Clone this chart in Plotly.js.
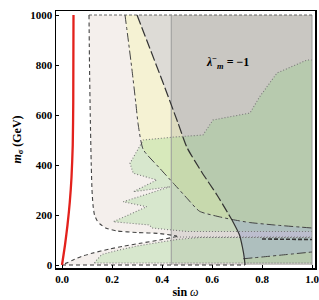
<!DOCTYPE html>
<html>
<head>
<meta charset="utf-8">
<script src="https://cdn.plot.ly/plotly-3.0.1.min.js"></script>
<style>html,body{margin:0;padding:0;background:#fff;}#chart{width:319px;height:300px;}</style>
</head>
<body>
<div id="chart"></div>
<script>
// ---- data (x = sin ω, y = m_σ in GeV) ----
// red curve
const redX = [0.0, 0.012, 0.022, 0.031, 0.038, 0.043, 0.045, 0.046];
const redY = [0, 80, 160, 250, 350, 480, 650, 1000];
// dashed boundary of the pink region: upper branch (top -> tongue tip)
const upDashX = [0.108, 0.110, 0.113, 0.117, 0.120, 0.124, 0.130, 0.140, 0.152, 0.175, 0.22, 0.30, 0.39, 0.46];
const upDashY = [1000, 800, 600, 400, 300, 240, 200, 178, 164, 148, 136, 130, 126, 116];
// dashed boundary: lower branch (tongue tip -> origin)
const loDashX = [0.46, 0.39, 0.32, 0.25, 0.19, 0.12, 0.08, 0.04, 0.0];
const loDashY = [114, 100, 88, 76, 64, 47, 35, 18, 0];
// dash-dot boundary of the yellow region
const ddX = [0.252, 0.265, 0.28, 0.295, 0.305, 0.325, 0.39, 0.45, 0.50, 0.55, 0.62, 0.68, 0.75, 0.85, 1.0];
const ddY = [1000, 900, 780, 650, 560, 462, 388, 322, 267, 215, 195, 182, 170, 160, 148];
// long-dash boundary of the grey region (upper dashed part, lower solid part)
const ldX = [0.30, 0.35, 0.40, 0.464, 0.50, 0.56, 0.62, 0.68];
const ldY = [1000, 870, 740, 568, 470, 370, 280, 180];
const lsX = [0.68, 0.71, 0.722, 0.729, 0.732];
const lsY = [180, 120, 70, 30, 0];
// dotted boundary of upper green region (right edge -> left, then jagged down)
const gTopX = [1.0, 0.98, 0.86, 0.79, 0.752, 0.604, 0.564, 0.45, 0.325];
const gTopY = [820, 820, 768, 672, 608, 580, 520, 512, 500];
const gJagX = [0.325, 0.272, 0.285, 0.379, 0.285, 0.432, 0.245, 0.339, 0.205, 0.35, 0.36, 0.46, 0.50, 1.0];
const gJagY = [500, 407, 367, 340, 293, 313, 253, 233, 173, 160, 148, 140, 134, 134];
// dotted boundary of lower green region
const gLowX = [0.13, 0.14, 0.16, 0.22, 0.30, 0.40, 0.46, 0.55, 1.0];
const gLowY = [8, 22, 42, 58, 76, 92, 102, 110, 110];
// dash-dot lines of the blue band
const bUpX = [0.68, 0.75, 0.85, 1.0];
const bUpY = [182, 170, 160, 148];
const bLoX = [0.725, 0.8, 0.9, 1.0];
const bLoY = [25, 32, 42, 52];
// heavy dashed line in the band
const hdX = [0.80, 1.0];
const hdY = [104, 102];
// vertical line
const vLineX = 0.437;
const xTicks = [0, 0.2, 0.4, 0.6, 0.8, 1.0];
const yTicks = [0, 200, 400, 600, 800, 1000];

// ---- build traces ----
function poly(xs, ys, color) {
  return {x: xs, y: ys, mode: 'lines', fill: 'toself', fillcolor: color,
          line: {width: 0, color: 'rgba(0,0,0,0)'}, hoverinfo: 'skip', type: 'scatter'};
}
function line(xs, ys, color, width, dash) {
  return {x: xs, y: ys, mode: 'lines', line: {color: color, width: width, dash: dash, shape: 'spline', smoothing: 0.6},
          hoverinfo: 'skip', type: 'scatter'};
}
function lineL(xs, ys, color, width, dash) {
  return {x: xs, y: ys, mode: 'lines', line: {color: color, width: width, dash: dash},
          hoverinfo: 'skip', type: 'scatter'};
}
const rev = a => a.slice().reverse();
const ldAllX = ldX.concat(lsX.slice(1));
const ldAllY = ldY.concat(lsY.slice(1));

const traces = [];
// pink region
traces.push(poly(upDashX.concat(loDashX, [1.0, 1.0]), upDashY.concat(loDashY, [0, 1000]), '#f4efec'));
// yellow region
traces.push(poly(ddX.concat([1.0]), ddY.concat([1000]), '#f5f2d3'));
// grey region
traces.push(poly(ldAllX.concat([1.0, 1.0]), ldAllY.concat([0, 1000]), '#dddbd6'));
// vertical band
traces.push(poly([vLineX, 1.0, 1.0, vLineX], [0, 0, 1000, 1000], 'rgba(0,0,0,0.09)'));
// green regions
traces.push(poly(gTopX.concat(gJagX.slice(1)), gTopY.concat(gJagY.slice(1)), 'rgba(135,211,121,0.27)'));
traces.push(poly(gLowX.concat([1.0]), gLowY.concat([8]), 'rgba(135,211,121,0.27)'));
// blue band
traces.push(poly(bUpX.concat(rev(bLoX), [0.722, 0.71]), bUpY.concat(rev(bLoY), [70, 120]), 'rgba(140,150,255,0.2)'));

// boundary lines
traces.push(lineL(gTopX.concat(gJagX.slice(1)), gTopY.concat(gJagY.slice(1)), '#7a7a7a', 1.1, '1px,2px'));
traces.push(lineL([0.46, 1.0], [112, 112], '#7a7a7a', 1.1, '1px,2px'));
traces.push(lineL(gLowX, gLowY, '#7a7a7a', 1.1, '1px,2px'));
traces.push(lineL([0.13, 1.0], [8, 8], '#7a7a7a', 1.1, '1px,2px'));
traces.push(lineL([1.0, 1.0], [0, 1000], '#999', 1, 'solid'));
traces.push(lineL([0.108, 1.0], [1000, 1000], '#666', 1, '3px,2px'));
traces.push(lineL([vLineX, vLineX], [0, 1000], '#9a9a9a', 1, 'solid'));
traces.push(line(upDashX, upDashY, '#444', 1.1, '4px,3px'));
traces.push(line(loDashX, loDashY, '#444', 1.1, '4px,3px'));
traces.push(lineL([0.0, 0.732], [0, 0], '#333', 1.2, '4px,3px'));
traces.push(line(ddX, ddY, '#444', 1, 'dashdot'));
traces.push(line(bLoX, bLoY, '#444', 1, 'dashdot'));
traces.push(lineL(hdX, hdY, '#333', 1.6, '4px,2px'));
traces.push(line(ldX, ldY, '#333', 1.2, '10px,3px'));
traces.push(line(lsX, lsY, '#333', 1.2, 'solid'));
traces.push(line(redX, redY, '#e3211c', 2.3, 'solid'));

const tickFont = {family: 'Liberation Serif, Times New Roman, serif', size: 11, color: '#000'};
const layout = {
  width: 319, height: 300,
  margin: {l: 56, r: 4, t: 11, b: 32, pad: 0},
  paper_bgcolor: '#fff', plot_bgcolor: '#fff',
  showlegend: false,
  xaxis: {range: [-0.024, 1.012], tickvals: xTicks, ticktext: xTicks.map(v => '<b>' + v.toFixed(1) + '</b>'),
          showgrid: false, zeroline: false, showline: true, mirror: true, linecolor: '#000', linewidth: 1.5,
          ticks: 'inside', ticklen: 3, tickcolor: '#000', tickfont: tickFont, ticklabeloverflow: 'allow',
          title: {text: '<b>sin</b> <i>ω</i>', font: {family: 'Liberation Serif, serif', size: 12, color: '#000'}, standoff: 4}},
  yaxis: {range: [-12, 1016], tickvals: yTicks, ticktext: yTicks.map(v => '<b>' + v + '</b>'),
          showgrid: false, zeroline: false, showline: true, mirror: true, linecolor: '#000', linewidth: 1.5,
          ticks: 'inside', ticklen: 3, tickcolor: '#000', tickfont: tickFont, ticklabeloverflow: 'allow',
          title: {text: '<b><i>m</i><sub>σ</sub> (GeV)</b>', font: {family: 'Liberation Serif, serif', size: 12, color: '#000'}, standoff: 6}},
  annotations: [{x: 0.66, y: 812, xref: 'x', yref: 'y', showarrow: false,
                 text: '<b><i>λ</i><sup>−</sup><sub><i>m</i></sub> = −1</b>',
                 font: {family: 'Liberation Serif, serif', size: 12, color: '#000'}}]
};
Plotly.newPlot('chart', traces, layout, {staticPlot: true, displayModeBar: false});
</script>
</body>
</html>
